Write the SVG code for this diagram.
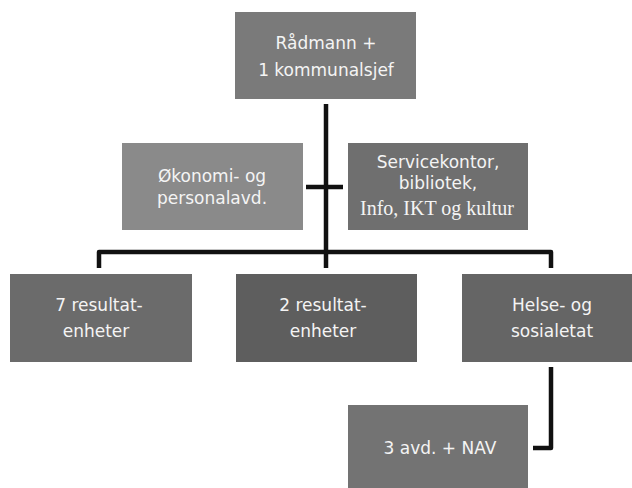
<svg xmlns="http://www.w3.org/2000/svg" width="632" height="488" viewBox="0 0 632 488">
<style>
.box{stroke:none}
.t{font-family:"DejaVu Sans",Verdana,sans-serif;font-size:17px;fill:#f4f4f4;text-anchor:middle}
.s{font-family:"Liberation Serif",serif;font-size:20px}
.c{stroke:#111;stroke-width:4.5;fill:none;stroke-linejoin:round}
</style>
<rect width="632" height="488" fill="#ffffff"/>
<g id="connectors">
<path class="c" d="M326 104 V268"/>
<path class="c" d="M306 187 H343"/>
<path class="c" d="M99 268 V252 H551 V268"/>
<path class="c" d="M551 367 V448 H533"/>
</g>
<g id="n-radmann">
<rect class="box" x="235" y="12" width="181" height="87" fill="#7a7a7a"/>
<text class="t" x="326" y="49">Rådmann +</text>
<text class="t" x="326" y="76">1 kommunalsjef</text>
</g>
<g id="n-okonomi">
<rect class="box" x="122" y="143" width="181" height="87" fill="#8a8a8a"/>
<text class="t" x="212" y="182">Økonomi- og</text>
<text class="t" x="212" y="204">personalavd.</text>
</g>
<g id="n-service">
<rect class="box" x="348" y="143" width="180" height="87" fill="#6f6f6f"/>
<text class="t" x="438" y="168">Servicekontor,</text>
<text class="t" x="438" y="189">bibliotek,</text>
<text class="t s" x="437" y="215">Info, IKT og kultur</text>
</g>
<g id="n-7res">
<rect class="box" x="10" y="274" width="182" height="88" fill="#6b6b6b"/>
<text class="t" x="99" y="311">7 resultat-</text>
<text class="t" x="96" y="337">enheter</text>
</g>
<g id="n-2res">
<rect class="box" x="236" y="274" width="181" height="88" fill="#5e5e5e"/>
<text class="t" x="323" y="311">2 resultat-</text>
<text class="t" x="323" y="337">enheter</text>
</g>
<g id="n-helse">
<rect class="box" x="462" y="274" width="170" height="88" fill="#656565"/>
<text class="t" x="552" y="311">Helse- og</text>
<text class="t" x="552" y="337">sosialetat</text>
</g>
<g id="n-nav">
<rect class="box" x="348" y="405" width="180" height="83" fill="#737373"/>
<text class="t" x="440" y="454">3 avd. + NAV</text>
</g>
</svg>
